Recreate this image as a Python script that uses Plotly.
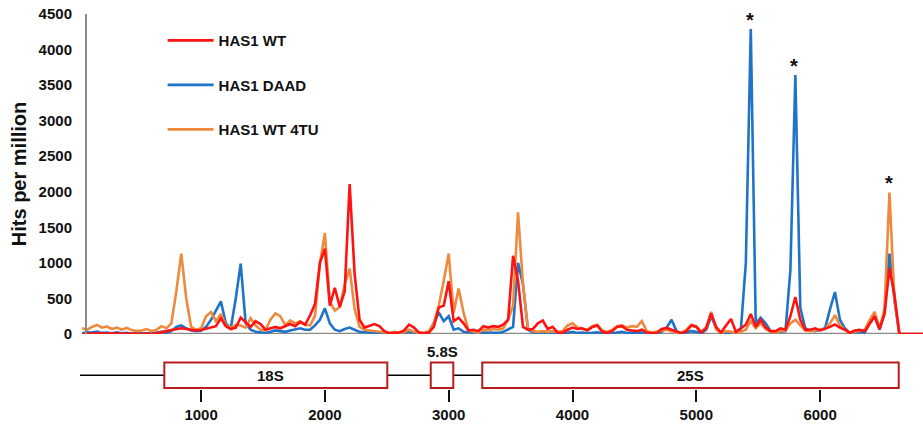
import plotly.graph_objects as go

# nucleotide positions along the rDNA transcript (bin centres, 40 nt bins)
positions = list(range(40, 6841, 40))

has1_wt = [
    0, 5, 0, 10, 5, 0, 5, 10, 0, 5,
    0, 5, 0, 5, 0, 10, 20, 40, 55, 70,
    80, 70, 60, 50, 55, 70, 90, 110, 220, 110,
    70, 90, 230, 170, 100, 180, 140, 60, 80, 100,
    80, 110, 140, 110, 170, 130, 260, 420, 1000, 1200,
    400, 650, 380, 600, 2110, 850, 200, 90, 110, 140,
    110, 40, 10, 10, 20, 50, 130, 90, 20, 10,
    20, 100, 370, 400, 740, 180, 230, 150, 50, 60,
    40, 110, 90, 110, 100, 130, 200, 1100, 750, 100,
    60, 70, 150, 190, 70, 100, 20, 15, 60, 90,
    70, 80, 50, 100, 120, 30, 15, 40, 100, 110,
    60, 50, 40, 60, 20, 10, 15, 70, 85, 60,
    30, 10, 40, 120, 100, 20, 80, 290, 100, 20,
    120, 210, 30, 80, 130, 280, 100, 200, 90, 40,
    40, 80, 60, 250, 520, 200, 60, 60, 80, 50,
    70, 100, 135, 90, 60, 15, 50, 60, 40, 150,
    250, 70, 280, 925, 560, 0, 0, 0, 0, 0,
    0,
]

has1_daad = [
    10, 25, 20, 35, 15, 20, 10, 25, 10, 15,
    5, 10, 5, 10, 5, 15, 30, 20, 40, 100,
    120, 80, 50, 40, 45, 100, 200, 330, 460, 150,
    80, 500, 990, 150, 60, 30, 20, 15, 30, 50,
    40, 30, 50, 70, 80, 60, 60, 120, 200, 360,
    150, 60, 40, 70, 90, 60, 30, 25, 20, 15,
    10, 10, 5, 15, 10, 15, 30, 20, 10, 5,
    20, 150, 300, 180, 250, 60, 80, 30, 20, 15,
    10, 20, 15, 20, 15, 30, 60, 100, 1000, 700,
    60, 20, 15, 10, 10, 10, 5, 5, 20, 30,
    15, 20, 10, 20, 25, 10, 5, 10, 20, 30,
    15, 10, 15, 20, 5, 5, 10, 30, 90, 200,
    40, 10, 20, 40, 30, 10, 60, 250, 80, 10,
    20, 15, 15, 60, 1000, 4290, 150, 230, 150, 40,
    20, 30, 40, 900, 3640, 370, 80, 50, 40, 60,
    80, 350, 590, 200, 80, 15, 20, 30, 20, 150,
    250, 60, 300, 1130, 480, 0, 0, 0, 0, 0,
    0,
]

has1_wt_4tu = [
    80, 60, 100, 127, 90, 105, 70, 90, 60, 85,
    55, 40, 50, 70, 40, 60, 110, 80, 150, 600,
    1130, 500, 100, 60, 80, 250, 310, 180, 280, 120,
    90, 130, 120, 90, 220, 120, 60, 50, 200, 290,
    250, 120, 190, 150, 180, 130, 120, 250, 1000, 1420,
    450, 330, 380, 700, 920, 350, 100, 60, 50, 40,
    30, 20, 15, 30, 20, 25, 60, 30, 15, 20,
    40, 150, 400, 750, 1130, 300, 640, 300, 50, 30,
    20, 60, 50, 70, 60, 80, 200, 400, 1710, 700,
    80, 40, 30, 40, 30, 40, 30, 40, 120, 150,
    90, 70, 60, 110, 130, 50, 30, 60, 110, 120,
    90, 110, 100, 180, 40, 20, 30, 40, 60, 40,
    20, 15, 60, 130, 110, 30, 100, 310, 60, 20,
    40, 30, 20, 30, 60, 180, 80, 150, 70, 30,
    20, 40, 50, 150, 200, 120, 50, 40, 50, 60,
    70, 150, 265, 120, 60, 15, 30, 50, 60, 200,
    310, 80, 350, 1990, 500, 0, 0, 0, 0, 0,
    0,
]

y_ticks = [0, 500, 1000, 1500, 2000, 2500, 3000, 3500, 4000, 4500]
x_ticks = [1000, 2000, 3000, 4000, 5000, 6000]

# rRNA gene map
gene_names = ["18S", "5.8S", "25S"]
gene_start = [703, 2855, 3271]
gene_end = [2504, 3037, 6635]
gene_label_x = [1560, 2946, 4950]
transcript_start = 22
transcript_end = 6635

# significant peaks (asterisks)
star_x = [5434, 5790, 6557]
star_y = [4290, 3640, 1990]

FONT = "Arial, 'Liberation Sans', sans-serif"
RED = "#FF1212"
BLUE = "#1F74C7"
ORANGE = "#EE8A3D"

fig = go.Figure()

series = [
    ("HAS1 DAAD", has1_daad, BLUE, 2),
    ("HAS1 WT 4TU", has1_wt_4tu, ORANGE, 3),
    ("HAS1 WT", has1_wt, RED, 1),
]
for name, vals, col, rank in series:
    fig.add_trace(go.Scatter(
        x=positions, y=vals, mode="lines", name=name,
        line=dict(color=col, width=2.6),
        xaxis="x", yaxis="y", legendrank=rank, legendgroup=name,
    ))

# transcript backbone of the gene map
fig.add_trace(go.Scatter(x=[transcript_start, transcript_end], y=[0.5, 0.5],
                         mode="lines", line=dict(color="black", width=1.5),
                         xaxis="x", yaxis="y2", showlegend=False, hoverinfo="skip"))

shapes = []
# baseline of the coverage plot
shapes.append(dict(type="line", xref="x", yref="y", x0=70, x1=transcript_end,
                   y0=0, y1=0, line=dict(color="#8a8a8a", width=2.5), layer="below"))
for s, e in zip(gene_start, gene_end):
    shapes.append(dict(type="rect", xref="x", yref="y2", x0=s, x1=e, y0=0, y1=1,
                       fillcolor="white", line=dict(color="#B81C1C", width=2), layer="above"))

annotations = []
for name, lx in zip(gene_names, gene_label_x):
    if name == "5.8S":
        annotations.append(dict(x=lx, y=1.0, xref="x", yref="y2", text=name,
                                showarrow=False, yanchor="bottom", yshift=1,
                                font=dict(family=FONT, size=15, color="#111", weight="bold")))
    else:
        annotations.append(dict(x=lx, y=0.5, xref="x", yref="y2", text=name,
                                showarrow=False, yanchor="middle",
                                font=dict(family=FONT, size=15, color="#111", weight="bold")))
for sx, sy in zip(star_x, star_y):
    annotations.append(dict(x=sx, y=sy, xref="x", yref="y", text="*", showarrow=False,
                            yanchor="middle", yshift=9,
                            font=dict(family=FONT, size=20, color="#111", weight="bold")))

fig.update_layout(
    width=923, height=431,
    margin=dict(l=80, r=0, t=14, b=42),
    paper_bgcolor="white", plot_bgcolor="white",
    showlegend=True,
    legend=dict(x=0.098, y=0.973, xanchor="left", yanchor="top",
                bgcolor="rgba(0,0,0,0)", tracegroupgap=22, itemwidth=46,
                traceorder="grouped",
                font=dict(family=FONT, size=15, color="#111", weight="bold")),
    xaxis=dict(range=[22, 6831], anchor="y2", tickvals=x_ticks, ticks="outside",
               ticklen=12, tickwidth=2, tickcolor="#111", showline=False,
               showgrid=False, zeroline=False, automargin=False,
               tickfont=dict(family=FONT, size=15, color="#111", weight="bold")),
    yaxis=dict(domain=[0.1467, 1], range=[0, 4500], anchor="free", position=0.0071,
               tickvals=y_ticks, ticks="", showline=True, linecolor="#8a8a8a",
               linewidth=2, showgrid=False, zeroline=False, automargin=False,
               ticklabelstandoff=10,
               tickfont=dict(family=FONT, size=15, color="#111", weight="bold"),
               title=dict(text="Hits per million", standoff=6,
                          font=dict(family=FONT, size=20, color="#111", weight="bold"))),
    yaxis2=dict(domain=[0, 0.0773], range=[-0.04, 1.1], visible=False, anchor="x"),
    shapes=shapes,
    annotations=annotations,
)

fig.write_html("out.html", config={"displayModeBar": False},
               post_script="document.body.style.margin='0';")
